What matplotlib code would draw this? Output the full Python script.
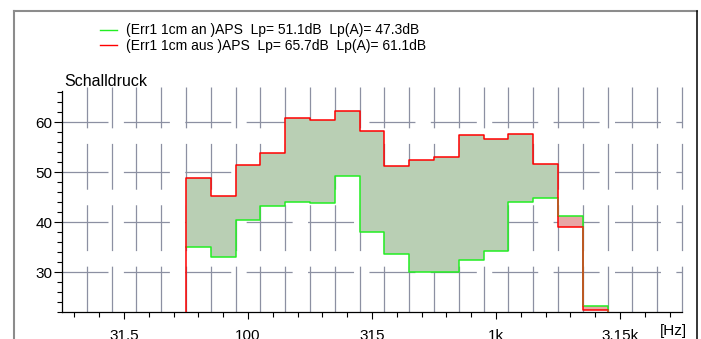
import matplotlib
matplotlib.use("Agg")
import matplotlib.pyplot as plt
from matplotlib.lines import Line2D
import numpy as np

plt.rcParams['font.family'] = ['Liberation Sans', 'DejaVu Sans']
plt.rcParams['lines.scale_dashes'] = False

# Terzbaender 20 Hz .. 5 kHz
bands = ['20', '25', '31.5', '40', '50', '63', '80', '100', '125', '160', '200',
         '250', '315', '400', '500', '630', '800', '1k', '1.25k', '1.6k', '2k',
         '2.5k', '3.15k', '4k', '5k']
labeled = ['31.5', '100', '315', '1k', '3.15k']

# Pegel von 63 Hz bis 2.5 kHz
first_band = '63'
aus = [48.9, 45.3, 51.5, 53.9, 60.9, 60.5, 62.2, 58.3, 51.2, 52.5, 53.1,
       57.4, 56.7, 57.7, 51.7, 39.1, 22.5]
an = [35.1, 33.1, 40.4, 43.3, 44.1, 43.8, 49.3, 38.1, 33.6, 30.0, 30.0,
      32.5, 34.2, 44.1, 44.8, 41.3, 23.3]

leg_an = '(Err1 1cm an )APS  Lp= 51.1dB  Lp(A)= 47.3dB'
leg_aus = '(Err1 1cm aus )APS  Lp= 65.7dB  Lp(A)= 61.1dB'

W, H = 701, 339
fig = plt.figure(figsize=(W / 100, H / 100), dpi=100)
ax = fig.add_axes([62 / W, 1 - 312 / H, 620 / W, 225 / H])

ymin, ymax = 22, 67.06
nb = len(bands)
ax.set_xlim(-0.5, nb - 0.5)
ax.set_ylim(ymin, ymax)

aus = np.array(aus)
an = np.array(an)
i0 = bands.index(first_band)
centers = np.arange(i0, i0 + len(aus))
edges = np.arange(i0, i0 + len(aus) + 1) - 0.5

# Gitter (gestrichelt)
grid_c = '#8c90a2'
for v in [30, 40, 50, 60]:
    ax.plot([-0.5, nb - 0.5], [v, v], color=grid_c, lw=0.9,
            dashes=(33.1, 11.1), zorder=1, clip_on=False)
for e in np.arange(0.5, nb):
    ax.plot([e, e], [ymin, ymax], color=grid_c, lw=0.9,
            dashes=(33.0, 11.2), zorder=1, clip_on=False)

# Flaeche zwischen den Kurven
lo = np.minimum(aus, an)
hi = np.maximum(aus, an)
cols = ['#b9cfb4' if a >= b else '#e8a6a6' for a, b in zip(aus, an)]
ax.bar(centers, hi - lo, bottom=lo, width=1.0, color=cols, linewidth=0, zorder=2)

# Kurven
ax.step(edges, np.r_[an, 0], where='post', color='#22ee22', lw=1.1, zorder=3)
ax.step(np.r_[edges[0], edges], np.r_[0, aus, 0], where='post',
        color='#ff0000', lw=1.1, zorder=4)

# ueberlappende Senkrechten
aus_next = np.r_[aus[1:], 0]
an_next = np.r_[an[1:], 0]
for j in range(len(aus)):
    r_lo, r_hi = sorted([aus[j], aus_next[j]])
    g_lo, g_hi = sorted([an[j], an_next[j]])
    o_lo, o_hi = max(r_lo, g_lo), min(r_hi, g_hi)
    if o_hi > o_lo:
        ax.vlines(edges[j + 1], o_lo, o_hi, color='#b5652a', lw=1.1, zorder=5)

# Achsen
ax.set_xticks([bands.index(b) for b in labeled])
ax.set_xticklabels(labeled)
ax.set_xticks([i for i, b in enumerate(bands) if b not in labeled], minor=True)
ax.set_yticks([30, 40, 50, 60])
ax.set_yticks(np.arange(22, 67, 2), minor=True)
ax.tick_params(axis='x', which='major', length=5, width=0.8, pad=7, labelsize=11)
ax.tick_params(axis='x', which='minor', length=3.6, width=0.8)
ax.tick_params(axis='y', which='major', length=5.5, width=0.8, pad=1.2, labelsize=11)
ax.tick_params(axis='y', which='minor', length=3.4, width=0.8)
for s in ['top', 'right']:
    ax.spines[s].set_visible(False)
ax.spines['left'].set_bounds(ymin, 66.3)
ax.spines['left'].set_linewidth(0.9)
ax.spines['bottom'].set_linewidth(0.9)

fig.text(64 / W, 1 - 86 / H, 'Schalldruck', fontsize=11.5, va='baseline')
fig.text(660 / W, 1 - 335 / H, '[Hz]', fontsize=11, va='baseline')

# Legende
fig.add_artist(Line2D([100 / W, 117 / W], [1 - 29.7 / H] * 2, color='#22ee22', lw=1))
fig.add_artist(Line2D([100 / W, 117 / W], [1 - 45.3 / H] * 2, color='#ff0000', lw=1))
fig.text(126 / W, 1 - 34.3 / H, leg_an, fontsize=10, va='baseline')
fig.text(126 / W, 1 - 50 / H, leg_aus, fontsize=10, va='baseline')

# Rahmen
fig.add_artist(Line2D([14 / W, 14 / W], [1 - 11 / H, -0.1], color='#8c8c8c', lw=1.5))
fig.add_artist(Line2D([14 / W, 697 / W], [1 - 11 / H] * 2, color='#8c8c8c', lw=1.5))
fig.add_artist(Line2D([697 / W, 697 / W], [1 - 11 / H, -0.1], color='black', lw=1.1))

fig.savefig('out.png', dpi=100)
